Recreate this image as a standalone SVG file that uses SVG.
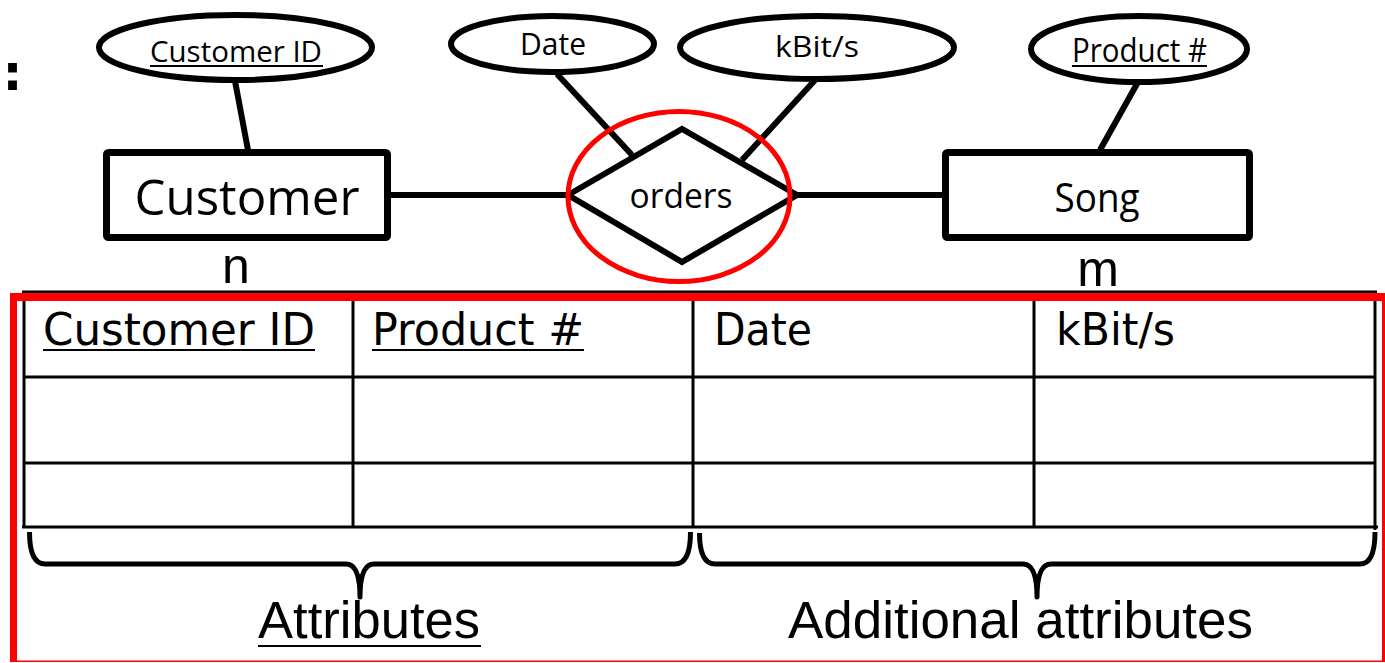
<svg xmlns="http://www.w3.org/2000/svg" width="1385" height="663" viewBox="0 0 1385 663">
<style>
.ent{fill:#fff;stroke:#000;stroke-width:7}
.att{fill:#fff;stroke:#000;stroke-width:6}
.con{stroke:#000;stroke-width:6;fill:none}
.er{font-family:"Open Sans","Noto Sans","DejaVu Sans",sans-serif;fill:#000;text-anchor:middle}
.tb{font-family:"DejaVu Sans","Noto Sans",sans-serif;font-size:44px;fill:#000}
.ar{font-family:"Liberation Sans",Arial,sans-serif;fill:#000}
.grid{stroke:#000;stroke-width:3}
.ul{stroke:#000;stroke-width:2}
.brace{fill:none;stroke:#000;stroke-width:5;stroke-linejoin:round}
</style>
<rect width="1385" height="663" fill="#fff"/>
<text x="2.5" y="90" font-family="DejaVu Sans,sans-serif" font-size="50" font-weight="bold" fill="#000">:</text>

<g id="connectors">
<line class="con" x1="391" y1="195" x2="568" y2="195" stroke-width="5"/>
<line class="con" x1="796" y1="195" x2="942" y2="195" stroke-width="5"/>
<line class="con" x1="235" y1="81" x2="248" y2="150"/>
<line class="con" x1="557" y1="74" x2="632" y2="155"/>
<line class="con" x1="816" y1="79" x2="742" y2="160"/>
<line class="con" x1="1138" y1="82" x2="1100" y2="150"/>
</g>

<g id="attr-customer-id">
<ellipse class="att" cx="235.5" cy="47.5" rx="136.5" ry="32.5"/>
<text class="er" x="236" y="62" font-size="29" textLength="172" lengthAdjust="spacingAndGlyphs">Customer ID</text>
<line class="ul" x1="150" y1="66" x2="323" y2="66"/>
</g>

<g id="attr-date">
<ellipse class="att" cx="552.5" cy="44" rx="101.5" ry="28"/>
<text class="er" x="553" y="55" font-size="31" textLength="66" lengthAdjust="spacingAndGlyphs">Date</text>
</g>

<g id="attr-kbit">
<ellipse class="att" cx="817" cy="47.5" rx="137" ry="31.5"/>
<text class="er" x="817" y="57" font-size="30" textLength="84" lengthAdjust="spacingAndGlyphs">kBit/s</text>
</g>

<g id="attr-product">
<ellipse class="att" cx="1139" cy="49" rx="108" ry="33"/>
<text class="er" x="1139.5" y="62" font-size="32" textLength="135" lengthAdjust="spacingAndGlyphs">Product #</text>
<line class="ul" x1="1072" y1="66" x2="1207" y2="66"/>
</g>

<g id="entity-customer">
<rect class="ent" x="106.5" y="152.5" width="281" height="85" rx="2"/>
<text class="er" x="247" y="215" font-size="50" textLength="225" lengthAdjust="spacingAndGlyphs">Customer</text>
<text class="ar" x="236" y="283" font-size="50" text-anchor="middle">n</text>
</g>

<g id="entity-song">
<rect class="ent" x="945.5" y="152.5" width="304" height="85" rx="2"/>
<text class="er" x="1097" y="212" font-size="40" textLength="85" lengthAdjust="spacingAndGlyphs">Song</text>
<text class="ar" x="1098" y="286" font-size="50" text-anchor="middle">m</text>
</g>

<g id="relationship-orders">
<polygon points="568,195 682,129 797,195 682,262" fill="#fff" stroke="#000" stroke-width="6" stroke-linejoin="miter"/>
<text class="er" x="681" y="208" font-size="35" textLength="103" lengthAdjust="spacingAndGlyphs">orders</text>
<ellipse cx="679" cy="196.5" rx="111" ry="85" fill="none" stroke="#f00" stroke-width="5"/>
</g>

<g id="table">
<line class="grid" x1="22" y1="292" x2="1377" y2="292" stroke-width="2"/>
<line class="grid" x1="24" y1="292" x2="24" y2="527" stroke-width="2.5"/>
<line class="grid" x1="24" y1="377" x2="1375" y2="377"/>
<line class="grid" x1="24" y1="463" x2="1375" y2="463"/>
<line class="grid" x1="353" y1="292" x2="353" y2="527" stroke-width="2.5"/>
<line class="grid" x1="693" y1="292" x2="693" y2="527" stroke-width="2.5"/>
<line class="grid" x1="1034" y1="292" x2="1034" y2="527" stroke-width="2.5"/>
<line class="grid" x1="1375" y1="292" x2="1375" y2="530" stroke-width="6"/>
<line class="grid" x1="22" y1="527" x2="1378" y2="527" stroke-width="6"/>
<text class="tb" x="43" y="345" textLength="272" lengthAdjust="spacingAndGlyphs">Customer ID</text>
<line class="ul" x1="43" y1="350" x2="315" y2="350" stroke-width="2.5"/>
<text class="tb" x="372" y="345" textLength="212" lengthAdjust="spacingAndGlyphs">Product #</text>
<line class="ul" x1="372" y1="350" x2="584" y2="350" stroke-width="2.5"/>
<text class="tb" x="714" y="345" textLength="98" lengthAdjust="spacingAndGlyphs">Date</text>
<text class="tb" x="1056" y="345" textLength="119" lengthAdjust="spacingAndGlyphs">kBit/s</text>
</g>

<g id="brace-attributes">
<path class="brace" d="M29.5,532 Q29.5,564 45,564 L346,564 Q360,564 360,597 Q360,564 374,564 L675,564 Q690.5,564 690.5,532"/>
<text class="ar" x="258" y="638" font-size="51" textLength="222" lengthAdjust="spacingAndGlyphs">Attributes</text>
<line class="ul" x1="258" y1="646" x2="481" y2="646" stroke-width="3"/>
</g>

<g id="brace-additional">
<path class="brace" d="M699.5,533 Q699.5,564 715,564 L1023,564 Q1037,564 1037,597 Q1037,564 1051,564 L1360,564 Q1375,564 1375,532"/>
<text class="ar" x="788" y="638" font-size="51" textLength="465" lengthAdjust="spacingAndGlyphs">Additional attributes</text>
</g>

<g id="red-frame" fill="#f00">
<path d="M10,301 L10,298 Q10,293 15,293 L1385,293 L1385,301 Z"/>
<rect x="10" y="293" width="7" height="369"/>
<rect x="1382" y="293" width="3" height="369"/>
<rect x="10" y="660.5" width="1375" height="1.5"/>
</g>
</svg>
